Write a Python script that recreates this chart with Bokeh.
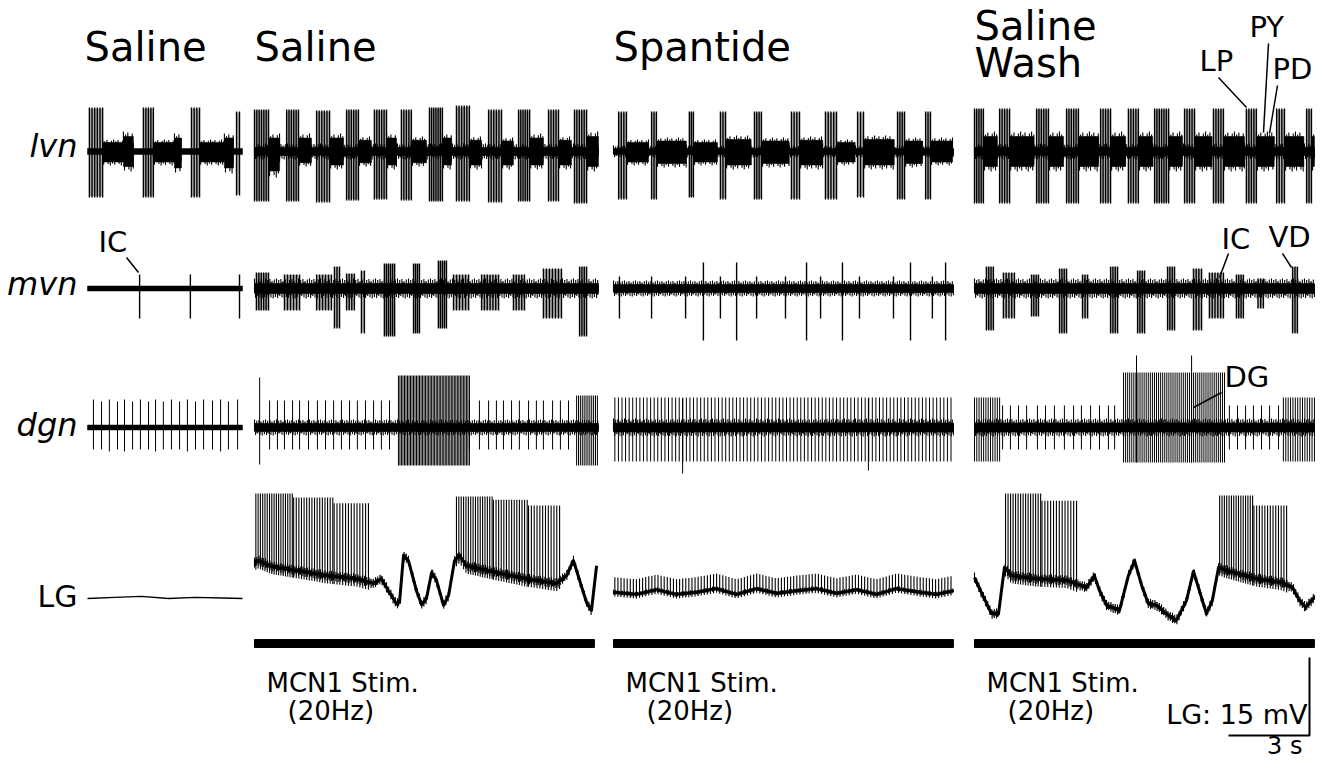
import numpy as np
from bokeh.plotting import figure
from bokeh.models import Range1d
from bokeh.embed import file_html
from bokeh.resources import INLINE
from bokeh.core.properties import value

# ------------------------------------------------------------------ data
# time in s from the start of each panel, extracellular amplitudes in a.u., LG in mV
PANEL_TITLES = [["Saline"], ["Saline"], ["Spantide"], ["Saline", "Wash"]]
PANEL_DUR_S = [5.74, 12.74, 12.59, 12.59]
ROW_LABELS = ["lvn", "mvn", "dgn", "LG"]

# lvn large-unit bursts (t0, t1, up, down, n_spikes)
LVN_LARGE_1 = [(0.07, 0.56, 44, 46, 6), (2.07, 2.44, 44, 46, 5), (3.85, 4.15, 44, 46, 4), (5.52, 5.63, 40, 44, 2)]
LVN_LARGE_2 = [(0.00, 0.52, 42, 50, 7), (1.19, 1.63, 42, 50, 6), (2.30, 2.78, 41, 51, 6), (3.41, 3.85, 42, 49, 6),
               (4.44, 4.89, 42, 48, 6), (5.44, 5.81, 42, 49, 5), (6.48, 6.96, 44, 50, 7), (7.48, 7.96, 46, 50, 6),
               (8.67, 9.15, 42, 51, 6), (9.78, 10.19, 42, 50, 6), (10.89, 11.26, 42, 50, 5), (11.85, 12.30, 42, 52, 6)]
LVN_LARGE_3 = [(0.19, 0.48, 40, 48, 4), (1.41, 1.59, 40, 48, 3), (2.81, 2.96, 40, 46, 3), (3.96, 4.15, 40, 48, 3),
               (5.22, 5.48, 40, 48, 4), (6.59, 6.89, 40, 48, 4), (7.85, 8.26, 40, 48, 5), (9.04, 9.26, 40, 46, 3),
               (10.52, 10.78, 40, 48, 4), (11.56, 11.74, 40, 48, 3)]
LVN_LARGE_4 = [(0.00, 0.33, 43, 52, 5), (0.93, 1.30, 43, 52, 5), (2.30, 2.74, 43, 52, 6), (3.41, 3.85, 43, 52, 6),
               (4.67, 5.04, 43, 52, 5), (5.70, 6.07, 43, 52, 5), (6.67, 7.19, 43, 52, 7), (7.78, 8.15, 43, 52, 5),
               (8.85, 9.22, 43, 52, 5), (10.07, 10.44, 43, 52, 5), (11.19, 11.48, 43, 52, 4), (12.30, 12.48, 43, 52, 3)]
# lvn small-unit activity (t0, t1, up, down)
LVN_SMALL_1 = [(0.56, 1.33, 12, 14), (1.33, 1.70, 20, 20), (2.44, 3.22, 12, 14), (3.22, 3.48, 18, 22),
               (4.15, 5.07, 12, 14), (5.07, 5.41, 18, 22)]
LVN_SMALL_2 = [(0.52, 0.93, 18, 26), (1.63, 2.11, 18, 15), (2.78, 3.30, 18, 18), (3.85, 4.33, 15, 15),
               (4.89, 5.26, 18, 18), (5.81, 6.37, 15, 15), (6.96, 7.30, 18, 18), (7.96, 8.41, 15, 18),
               (9.15, 9.59, 14, 18), (10.19, 10.70, 18, 18), (11.26, 11.74, 15, 18), (12.30, 12.74, 20, 20)]
LVN_SMALL_3 = [(0.48, 1.30, 12, 14), (1.59, 2.70, 14, 16), (2.96, 3.85, 12, 14), (4.15, 5.10, 16, 18),
               (5.48, 6.50, 14, 16), (6.89, 7.75, 15, 18), (8.26, 8.95, 12, 14), (9.26, 10.40, 16, 18),
               (10.78, 11.45, 14, 16), (11.74, 12.56, 14, 14)]
LVN_SMALL_4 = [(0.33, 0.85, 20, 20), (1.30, 2.20, 20, 20), (2.74, 3.30, 20, 20), (3.85, 4.60, 20, 20),
               (5.04, 5.60, 20, 20), (6.07, 6.60, 20, 20), (7.19, 7.70, 20, 20), (8.15, 8.80, 20, 20),
               (9.22, 10.00, 20, 20), (10.44, 11.10, 20, 20), (11.48, 12.20, 20, 20), (12.48, 12.59, 20, 20)]

# mvn units (t0, t1, up, down, n_spikes)
MVN_1 = [(1.93, 1.93, 14, 30, 1), (3.81, 3.81, 14, 30, 1), (5.63, 5.63, 14, 30, 1)]
MVN_2 = [(0.07, 0.52, 16, 22, 6), (1.11, 1.67, 14, 22, 6), (2.30, 2.85, 14, 22, 6), (2.96, 3.15, 22, 40, 3),
         (3.41, 3.70, 15, 22, 4), (3.96, 4.07, 18, 45, 2), (4.81, 5.19, 25, 48, 6), (5.89, 6.11, 25, 45, 4),
         (6.81, 7.11, 28, 40, 5), (7.37, 7.93, 14, 22, 6), (8.41, 9.04, 14, 22, 7), (9.59, 10.00, 14, 22, 5),
         (10.70, 11.37, 20, 30, 7), (12.04, 12.30, 22, 48, 4)]
MVN_3 = [(0.22, 0.22, 12, 30, 1), (1.41, 1.41, 12, 30, 1), (2.67, 2.67, 12, 30, 1), (3.33, 3.33, 26, 52, 1),
         (3.96, 3.96, 12, 30, 1), (4.56, 4.56, 26, 52, 1), (5.30, 5.30, 12, 30, 1), (6.37, 6.37, 12, 30, 1),
         (7.15, 7.15, 26, 52, 1), (7.67, 7.67, 12, 30, 1), (8.48, 8.48, 26, 52, 1), (9.11, 9.11, 12, 30, 1),
         (10.37, 10.37, 12, 30, 1), (11.00, 11.00, 26, 52, 1), (11.81, 11.81, 12, 30, 1), (12.30, 12.30, 26, 52, 1)]
MVN_4 = [(0.44, 0.70, 22, 42, 4), (1.07, 1.48, 16, 30, 5), (2.11, 2.37, 14, 28, 4), (3.15, 3.41, 20, 45, 4),
         (4.00, 4.19, 14, 30, 3), (5.04, 5.30, 22, 45, 4), (6.04, 6.30, 18, 45, 4), (7.15, 7.41, 22, 42, 4),
         (8.11, 8.41, 20, 42, 4), (8.70, 9.22, 16, 30, 6), (9.70, 9.96, 14, 30, 4), (10.50, 10.70, 10, 20, 3),
         (11.78, 11.96, 22, 45, 3)]

# dgn single spikes (t, up, down) and dense bursts (t0, t1, up, down, n_spikes)
DGN_SPIKES_1 = [(0.22, 28, 22), (0.52, 26, 22), (0.81, 28, 24), (1.11, 26, 22), (1.37, 28, 24), (1.67, 26, 22),
                (1.96, 28, 22), (2.26, 26, 22), (2.52, 28, 24), (2.81, 26, 22), (3.11, 28, 22), (3.41, 26, 22),
                (3.70, 28, 24), (4.00, 26, 22), (4.30, 28, 22), (4.63, 27, 22), (4.93, 28, 24), (5.22, 26, 22),
                (5.56, 28, 22)]
DGN_SPIKES_2 = [(0.19, 50, 37), (0.56, 27, 22), (0.85, 27, 22), (1.11, 27, 22), (1.41, 27, 22), (1.67, 27, 22),
                (2.00, 27, 22), (2.33, 27, 22), (2.63, 27, 22), (2.93, 27, 22), (3.22, 27, 22), (3.52, 27, 22),
                (3.81, 27, 22), (4.11, 27, 22), (4.41, 27, 22), (4.70, 27, 22), (5.00, 27, 22), (7.96, 27, 22),
                (8.33, 27, 22), (8.67, 27, 22), (8.96, 27, 22), (9.22, 27, 22), (9.52, 27, 22), (9.81, 27, 22),
                (10.15, 27, 22), (10.44, 27, 22), (10.70, 27, 22), (11.04, 27, 22), (11.33, 27, 22), (11.63, 27, 22)]
DGN_SPIKES_3 = [(2.56, 29, 46), (9.44, 29, 43)]
DGN_SPIKES_4 = [(1.04, 22, 22), (1.33, 22, 22), (1.63, 22, 22), (1.93, 22, 22), (2.33, 22, 22), (2.63, 22, 22),
                (2.96, 22, 22), (3.33, 22, 22), (3.67, 22, 22), (3.96, 22, 22), (4.30, 22, 22), (4.63, 22, 22),
                (4.96, 22, 22), (5.19, 22, 22), (6.00, 72, 35), (8.04, 72, 35), (9.44, 22, 22), (9.74, 22, 22),
                (10.04, 22, 22), (10.33, 22, 22), (10.63, 22, 22), (10.93, 22, 22), (11.26, 22, 22)]
DGN_BURSTS_1 = []
DGN_BURSTS_2 = [(5.33, 7.96, 52, 38, 48), (11.93, 12.70, 32, 38, 12)]
DGN_BURSTS_3 = [(0.05, 12.50, 30, 34, 95)]
DGN_BURSTS_4 = [(0.00, 0.93, 30, 34, 12), (5.52, 9.26, 55, 35, 50), (11.44, 12.59, 30, 34, 14)]

# baseline noise half-width per panel (a.u.)
NOISE_LVN = [3, 4, 3, 4]
NOISE_MVN = [2.5, 5, 4, 5]
NOISE_DGN = [2.5, 4, 4.5, 4.5]

# LG membrane potential (t s, Vm mV)
LG_T_1 = [0, 1, 2, 3, 4, 5, 5.74]
LG_V_1 = [-60.0, -59.8, -59.6, -60.0, -59.8, -59.9, -60.0]
LG_T_2 = [0, 0.15, 0.63, 1.56, 2.67, 3.78, 4.41, 4.70, 4.96, 5.26, 5.37, 5.52, 5.70, 6.00, 6.19, 6.37, 6.56, 6.74,
          7.00, 7.19, 7.41, 7.59, 7.85, 8.96, 10.07, 11.19, 11.56, 11.81, 12.04, 12.30, 12.48, 12.67]
LG_V_2 = [-53.1, -52.7, -53.8, -54.6, -55.6, -56.2, -57.1, -56.2, -58.5, -61.0, -60.8, -51.7, -52.7, -58.5, -61.2,
          -60.0, -55.0, -56.5, -61.3, -59.4, -52.7, -51.7, -53.7, -55.0, -56.2, -57.1, -55.6, -52.7, -56.5, -60.8,
          -62.3, -53.7]
LG_T_3 = [0, 0.85, 1.59, 2.33, 3.07, 3.81, 4.56, 5.30, 6.04, 6.78, 7.52, 8.26, 9.00, 9.74, 10.48, 11.22, 11.96, 12.59]
LG_V_3 = [-58.8, -59.2, -58.3, -59.2, -58.8, -58.1, -59.2, -58.1, -59.0, -58.5, -58.1, -59.0, -58.3, -59.2, -58.1,
          -58.7, -59.2, -58.5]
LG_T_4 = [0, 0.22, 0.63, 0.89, 1.11, 1.37, 2.30, 3.41, 4.15, 4.44, 4.63, 4.89, 5.37, 5.70, 5.93, 6.19, 6.44, 6.74,
          7.19, 7.48, 7.85, 8.11, 8.33, 8.59, 8.81, 9.04, 9.33, 10.44, 11.37, 11.78, 12.04, 12.26, 12.59]
LG_V_4 = [-56.0, -58.5, -62.9, -62.9, -54.0, -55.6, -56.2, -56.5, -57.9, -55.6, -58.5, -61.3, -62.3, -55.6, -52.7,
          -57.5, -61.0, -61.3, -63.3, -64.2, -60.4, -54.8, -58.5, -62.9, -60.4, -54.0, -54.6, -56.2, -56.9, -57.9,
          -60.4, -61.7, -59.8]
# LG spike bursts (t0, t1, n_spikes, peak mV)
LG_SPIKES_2 = [(0.05, 1.40, 17, -39.8), (1.45, 2.90, 16, -40.6), (2.95, 4.22, 13, -41.7),
               (7.48, 8.80, 16, -40.4), (8.85, 10.10, 14, -41.0), (10.15, 11.30, 12, -42.1)]
LG_SPIKES_4 = [(1.15, 2.45, 15, -39.8), (2.50, 3.78, 13, -41.2), (9.08, 10.30, 15, -40.2), (10.35, 11.56, 13, -42.1)]
# small LG spikelets in Spantide (t0, t1, n, height mV above Vm)
LG_SPIKELETS_3 = [(0.05, 12.50, 110, 2.9)]
# LG trace noise half-width (mV) per panel
LG_NOISE_MV = [0.0, 1.0, 0.5, 1.0]

# MCN1 stimulation (panel index, t0, t1)
STIM = [(1, 0.0, 12.59), (2, 0.0, 12.59), (3, 0.0, 12.59)]
STIM_TEXT = ["MCN1 Stim.", "(20Hz)"]
SCALE_MV = 15
SCALE_S = 3

# ------------------------------------------------------------------ layout / style
W, H = 1315, 763
PANEL_LEFT = [91, 258, 617, 978]
ROW_Y = {"lvn": 151, "mvn": 288, "dgn": 427}
LG_REST_Y, LG_REST_MV = 598, -60.0
PX_PER_S = 27.0
PX_PER_MV = 78.0 / 15.0
FONT = value("DejaVu Sans")
TEXTURE = [1.0, 0.55, 0.85, 0.4, 0.95, 0.65, 0.75, 0.5, 0.9, 0.45]   # visual roughness of dense activity
TEXTURE_STEP_PX = 1.1

p = figure(width=W, height=H, x_range=Range1d(4, 4 + W), y_range=Range1d(H, 0),
           output_backend="svg", toolbar_location=None, min_border=0,
           x_axis_type=None, y_axis_type=None)
p.grid.visible = False
p.outline_line_color = None
p.background_fill_color = "white"
p.border_fill_color = "white"


def X(panel, t):
    return PANEL_LEFT[panel] + np.asarray(t, dtype=float) * PX_PER_S


def LGY(v):
    return LG_REST_Y - (np.asarray(v, dtype=float) - LG_REST_MV) * PX_PER_MV


segs = {"x0": [], "y0": [], "x1": [], "y1": []}
dsegs = {"x0": [], "y0": [], "x1": [], "y1": []}
thin = {"x0": [], "y0": [], "x1": [], "y1": []}
quads = {"left": [], "right": [], "top": [], "bottom": []}
grey = {"left": [], "right": [], "top": [], "bottom": []}


def add_seg(d, x0, y0, x1, y1):
    d["x0"].append(float(x0)); d["y0"].append(float(y0))
    d["x1"].append(float(x1)); d["y1"].append(float(y1))


def add_quad(d, l, r, t, b):
    d["left"].append(float(l)); d["right"].append(float(r))
    d["top"].append(float(t)); d["bottom"].append(float(b))


def spikes(dest, panel, y0, t0, t1, up, down, n, shade=False):
    ts = [t0] if n == 1 else np.linspace(t0, t1, n)
    for t in ts:
        x = X(panel, t)
        add_seg(dest, x, y0 - up, x, y0 + down)
    if shade and n > 1:
        add_quad(grey, X(panel, t0), X(panel, t1), y0 - up * 0.97, y0 + down * 0.97)


def dense(panel, y0, t0, t1, up, down, core=0.6):
    xa, xb = float(X(panel, t0)), float(X(panel, t1))
    add_quad(quads, xa, xb, y0 - up * core, y0 + down * core)
    xs = np.arange(xa, xb, TEXTURE_STEP_PX)
    for i, x in enumerate(xs):
        f = TEXTURE[i % len(TEXTURE)]
        g = TEXTURE[(i + 3) % len(TEXTURE)]
        add_seg(thin, x, y0 - up * f, x, y0 + down * g)


lvn_large = [LVN_LARGE_1, LVN_LARGE_2, LVN_LARGE_3, LVN_LARGE_4]
lvn_small = [LVN_SMALL_1, LVN_SMALL_2, LVN_SMALL_3, LVN_SMALL_4]
mvn_units = [MVN_1, MVN_2, MVN_3, MVN_4]
dgn_spk = [DGN_SPIKES_1, DGN_SPIKES_2, DGN_SPIKES_3, DGN_SPIKES_4]
dgn_bur = [DGN_BURSTS_1, DGN_BURSTS_2, DGN_BURSTS_3, DGN_BURSTS_4]

for k in range(4):
    x0, x1 = X(k, 0), X(k, PANEL_DUR_S[k])
    for row, noise in (("lvn", NOISE_LVN), ("mvn", NOISE_MVN), ("dgn", NOISE_DGN)):
        y = ROW_Y[row]
        add_quad(quads, x0, x1, y - noise[k], y + noise[k])
        if k > 0:
            dense(k, y, 0, PANEL_DUR_S[k], noise[k] * 2.0, noise[k] * 2.0, core=0.3)
    y = ROW_Y["lvn"]
    for (t0, t1, up, dn) in lvn_small[k]:
        dense(k, y, t0, t1, up, dn, core=0.75)
    for (t0, t1, up, dn, n) in lvn_large[k]:
        spikes(segs, k, y, t0, t1, up, dn, n, shade=True)
    y = ROW_Y["mvn"]
    for (t0, t1, up, dn, n) in mvn_units[k]:
        spikes(segs, k, y, t0, t1, up, dn, n, shade=True)
    y = ROW_Y["dgn"]
    for (t, up, dn) in dgn_spk[k]:
        spikes(dsegs, k, y, t, t, up, dn, 1)
    for (t0, t1, up, dn, n) in dgn_bur[k]:
        spikes(dsegs, k, y, t0, t1, up, dn, n)

p.quad(left="left", right="right", top="top", bottom="bottom", source=grey,
       fill_color="#b4b4b4", line_color=None)
p.quad(left="left", right="right", top="top", bottom="bottom", source=quads,
       fill_color="black", line_color="black", line_width=0.5)
p.segment(x0="x0", y0="y0", x1="x1", y1="y1", source=thin, line_color="black", line_width=1.1)
p.segment(x0="x0", y0="y0", x1="x1", y1="y1", source=segs, line_color="black", line_width=1.4)
p.segment(x0="x0", y0="y0", x1="x1", y1="y1", source=dsegs, line_color="black", line_width=1.0)

# LG traces
lg_t = [LG_T_1, LG_T_2, LG_T_3, LG_T_4]
lg_v = [LG_V_1, LG_V_2, LG_V_3, LG_V_4]
lg_w = [1.3, 3.0, 3.0, 3.0]
lseg = {"x0": [], "y0": [], "x1": [], "y1": []}
for k in range(4):
    p.line(X(k, lg_t[k]), LGY(lg_v[k]), line_color="black", line_width=lg_w[k], line_join="round")
    if LG_NOISE_MV[k] > 0:
        xa, xb = float(X(k, lg_t[k][0])), float(X(k, lg_t[k][-1]))
        for i, xx in enumerate(np.arange(xa, xb, TEXTURE_STEP_PX)):
            v = np.interp((xx - PANEL_LEFT[k]) / PX_PER_S, lg_t[k], lg_v[k])
            f = TEXTURE[i % len(TEXTURE)]
            g = TEXTURE[(i + 4) % len(TEXTURE)]
            add_seg(lseg, xx, LGY(v + LG_NOISE_MV[k] * f), xx, LGY(v - LG_NOISE_MV[k] * g))
for k, bursts in ((1, LG_SPIKES_2), (3, LG_SPIKES_4)):
    for (t0, t1, n, peak) in bursts:
        for t in np.linspace(t0, t1, n):
            base = np.interp(t, lg_t[k], lg_v[k])
            add_seg(lseg, X(k, t), LGY(base - 1.5), X(k, t), LGY(peak))
for (t0, t1, n, h) in LG_SPIKELETS_3:
    for t in np.linspace(t0, t1, n):
        base = np.interp(t, lg_t[2], lg_v[2])
        add_seg(lseg, X(2, t), LGY(base - 0.8), X(2, t), LGY(base + h))
p.segment(x0="x0", y0="y0", x1="x1", y1="y1", source=lseg, line_color="black", line_width=1.1)


# text helper (dy compensates the renderer's placement of alphabetic baselines)
def label(x, y, s, size, align="left", style="normal"):
    dy = 0.4 * size
    p.text(x=[x], y=[y - dy], text=[s], text_font=FONT, text_font_size="%dpx" % size,
           text_font_style=style, text_align=align, text_baseline="alphabetic", text_color="black")


# stimulation bars + text
STIM_Y = 643
for (k, t0, t1) in STIM:
    p.quad(left=[float(X(k, t0))], right=[float(X(k, t1))], top=[STIM_Y - 4], bottom=[STIM_Y + 4],
           fill_color="black", line_color="black")
    label(float(X(k, t0)) + 12, 693, STIM_TEXT[0], 26)
    label(float(X(k, t0)) + 33, 721, STIM_TEXT[1], 26)

# titles
for k, lines in enumerate(PANEL_TITLES):
    base = [62] if len(lines) == 1 else [41, 78]
    xx = PANEL_LEFT[k] - (3 if k == 0 else 0)
    for line, yb in zip(lines, base):
        label(xx, yb, line, 40)

# row labels
label_base = {"lvn": 158, "mvn": 296, "dgn": 437, "LG": 608}
for lab in ROW_LABELS:
    label(81, label_base[lab], lab, 32 if lab != "LG" else 30, align="right",
          style="italic" if lab != "LG" else "normal")

# unit annotations
ANNOT = [("IC", 102, 253, (130, 257, 142, 272)), ("LP", 1203, 72, (1222, 77, 1250, 107)),
         ("PY", 1253, 38, (1272, 43, 1267, 132)), ("PD", 1276, 80, (1281, 85, 1273, 133)),
         ("IC", 1225, 250, (1232, 253, 1223, 277)), ("VD", 1272, 248, (1286, 253, 1295, 267)),
         ("DG", 1228, 388, (1225, 392, 1197, 407))]
for (txt, ax, ay, (lx0, ly0, lx1, ly1)) in ANNOT:
    label(ax, ay, txt, 29)
    p.segment(x0=[lx0], y0=[ly0], x1=[lx1], y1=[ly1], line_color="black", line_width=1.5)

# scale bar
SB_X, SB_Y = 1313, 735
p.line([SB_X - SCALE_S * PX_PER_S, SB_X, SB_X], [SB_Y, SB_Y, SB_Y - SCALE_MV * PX_PER_MV],
       line_color="black", line_width=2)
label(1311, 725, "LG: %d mV" % SCALE_MV, 27, align="right")
label(1306, 755, "%d s" % SCALE_S, 24, align="right")

open("out.html", "w").write(file_html(p, INLINE))
